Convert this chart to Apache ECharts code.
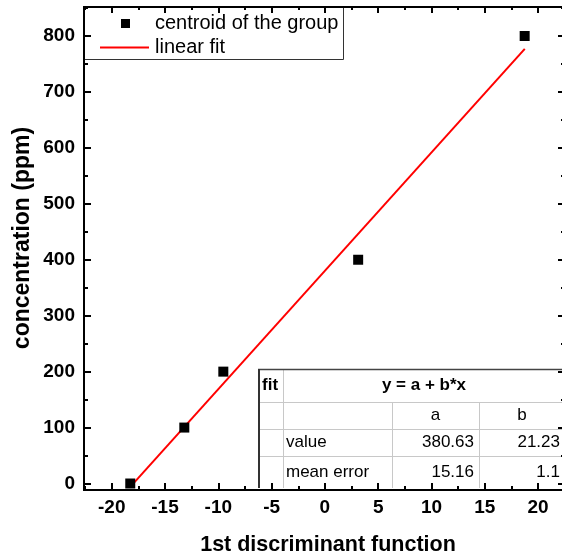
<!DOCTYPE html>
<html>
<head>
<meta charset="utf-8">
<script src="https://cdn.jsdelivr.net/npm/echarts@6/dist/echarts.min.js"></script>
<style>
  html, body { margin: 0; padding: 0; background: #fff; }
  #chart { width: 562px; height: 558px; }
</style>
</head>
<body>
<div id="chart"></div>
<script>
  // group centroids
  const xCentroid = [-18.26, -13.19, -9.53, 3.12, 18.74]
  const yConcentration = [0, 100, 200, 400, 800]
  // end points of the fitted line
  const fitX = [-18.3, 18.75]
  const fitY = [-7, 777]

  const xMajor = [-20, -15, -10, -5, 0, 5, 10, 15, 20]
  const xMinor = [-22.5, -17.5, -12.5, -7.5, -2.5, 2.5, 7.5, 12.5, 17.5, 22.5]
  const yMajor = [0, 100, 200, 300, 400, 500, 600, 700, 800]
  const yMinor = [50, 150, 250, 350, 450, 550, 650, 750, 850]

  // fit table
  const fitHeader = ['fit', 'y = a + b*x']
  const paramNames = ['a', 'b']
  const rowLabels = ['value', 'mean error']
  const valueRow = ['380.63', '21.23']
  const errorRow = ['15.16', '1.1']

  const FONT = '"Liberation Sans", Arial, sans-serif'
  const X_MIN = -22.6, X_MAX = 22.43
  const Y_MIN = -11.6, Y_MAX = 851.8

  function xAx(pos, ticks, len, labels) {
    return {
      type: 'value', position: pos, min: X_MIN, max: X_MAX,
      axisLine: { show: true, onZero: false, lineStyle: { color: '#000', width: 2 } },
      axisTick: { show: true, inside: true, length: len, customValues: ticks, lineStyle: { color: '#000', width: 2 } },
      axisLabel: labels ? { show: true, customValues: ticks, margin: 8, color: '#000', fontFamily: FONT, fontWeight: 'bold', fontSize: 19 } : { show: false },
      splitLine: { show: false }
    }
  }
  function yAx(pos, ticks, len, labels) {
    return {
      type: 'value', position: pos, min: Y_MIN, max: Y_MAX,
      axisLine: { show: true, onZero: false, lineStyle: { color: '#000', width: 2 } },
      axisTick: { show: true, inside: true, length: len, customValues: ticks, lineStyle: { color: '#000', width: 2 } },
      axisLabel: labels ? { show: true, customValues: ticks, margin: 9, color: '#000', fontFamily: FONT, fontWeight: 'bold', fontSize: 19 } : { show: false },
      splitLine: { show: false }
    }
  }

  const xAxes = [xAx('bottom', xMajor, 7, true), xAx('bottom', xMinor, 4), xAx('top', xMajor, 6), xAx('top', xMinor, 3)]
  xAxes[0].name = '1st discriminant function'
  xAxes[0].nameLocation = 'middle'
  xAxes[0].nameGap = 44
  xAxes[0].nameTextStyle = { color: '#000', fontFamily: FONT, fontWeight: 'bold', fontSize: 21.5, padding: [0, 0, 0, 8] }
  const yAxes = [yAx('left', yMajor, 7, true), yAx('left', yMinor, 4), yAx('right', yMajor, 6), yAx('right', yMinor, 3)]

  // table grid
  const colX = [258, 283, 392, 479, 565]
  const rowY = [369, 402, 429, 456, 488]
  const tableEls = []
  tableEls.push({ type: 'rect', shape: { x: colX[0], y: rowY[0], width: colX[4] - colX[0], height: rowY[4] - rowY[0] }, style: { fill: '#fff' } })
  for (let i = 1; i < 4; i++) {
    tableEls.push({ type: 'line', shape: { x1: colX[0], y1: rowY[i] + 0.5, x2: colX[4], y2: rowY[i] + 0.5 }, style: { stroke: '#c8c8c8', lineWidth: 1 } })
  }
  tableEls.push({ type: 'line', shape: { x1: colX[1] + 0.5, y1: rowY[0], x2: colX[1] + 0.5, y2: rowY[4] }, style: { stroke: '#c8c8c8', lineWidth: 1 } })
  tableEls.push({ type: 'line', shape: { x1: colX[2] + 0.5, y1: rowY[1], x2: colX[2] + 0.5, y2: rowY[4] }, style: { stroke: '#c8c8c8', lineWidth: 1 } })
  tableEls.push({ type: 'line', shape: { x1: colX[3] + 0.5, y1: rowY[1], x2: colX[3] + 0.5, y2: rowY[4] }, style: { stroke: '#c8c8c8', lineWidth: 1 } })
  tableEls.push({ type: 'line', shape: { x1: colX[0], y1: rowY[0] + 0.5, x2: colX[4], y2: rowY[0] + 0.5 }, style: { stroke: '#444', lineWidth: 1.5 } })
  tableEls.push({ type: 'line', shape: { x1: colX[0] + 1, y1: rowY[0], x2: colX[0] + 1, y2: rowY[4] }, style: { stroke: '#333', lineWidth: 2 } })

  const cellText = (txt, x, y, align, bold) => ({
    type: 'text', x: x, y: y,
    style: { text: txt, fill: '#000', font: (bold ? 'bold ' : '') + '17px ' + FONT, textAlign: align, textVerticalAlign: 'middle' }
  })
  const mid = i => (rowY[i] + rowY[i + 1]) / 2
  tableEls.push(cellText(fitHeader[0], colX[0] + 4, mid(0), 'left', true))
  tableEls.push(cellText(fitHeader[1], (colX[1] + colX[4]) / 2, mid(0), 'center', true))
  tableEls.push(cellText(paramNames[0], (colX[2] + colX[3]) / 2, mid(1), 'center'))
  tableEls.push(cellText(paramNames[1], (colX[3] + colX[4]) / 2, mid(1), 'center'))
  tableEls.push(cellText(rowLabels[0], colX[1] + 3, mid(2), 'left'))
  tableEls.push(cellText(rowLabels[1], colX[1] + 3, mid(3), 'left'))
  tableEls.push(cellText(valueRow[0], colX[3] - 5, mid(2), 'right'))
  tableEls.push(cellText(valueRow[1], colX[4] - 5, mid(2), 'right'))
  tableEls.push(cellText(errorRow[0], colX[3] - 5, mid(3), 'right'))
  tableEls.push(cellText(errorRow[1], colX[4] - 5, mid(3), 'right'))

  const seriesNames = ['centroid of the group', 'linear fit']

  // legend drawn by hand
  const legendEls = [
    { type: 'rect', shape: { x: 84.5, y: 7.5, width: 259, height: 52 }, style: { fill: '#fff', stroke: '#333', lineWidth: 1 } },
    { type: 'rect', shape: { x: 121, y: 19, width: 9, height: 9 }, style: { fill: '#000' } },
    { type: 'text', x: 155, y: 23, style: { text: seriesNames[0], fill: '#000', font: '20px ' + FONT, textVerticalAlign: 'middle' } },
    { type: 'line', shape: { x1: 100, y1: 47.5, x2: 149, y2: 47.5 }, style: { stroke: '#ff0000', lineWidth: 2 } },
    { type: 'text', x: 155, y: 47, style: { text: seriesNames[1], fill: '#000', font: '20px ' + FONT, textVerticalAlign: 'middle' } }
  ]

  const chart = echarts.init(document.getElementById('chart'), null, { renderer: 'canvas' })
  const option = {
    animation: false,
    backgroundColor: '#fff',
    grid: { left: 84, top: 7, right: -2, bottom: 68, containLabel: false, outerBoundsMode: 'none' },
    xAxis: xAxes,
    yAxis: yAxes,
    graphic: [
      { type: 'text', x: 23, y: 238, rotation: Math.PI / 2,
        style: { text: 'concentration (ppm)', fill: '#000', font: 'bold 23px ' + FONT, textAlign: 'center', textVerticalAlign: 'middle' } },
      { type: 'group', z: 100, children: legendEls },
      { type: 'group', z: 100, children: tableEls }
    ],
    series: [
      {
        name: seriesNames[1], type: 'line', xAxisIndex: 0, yAxisIndex: 0,
        data: fitX.map((x, i) => [x, fitY[i]]),
        showSymbol: false, symbol: 'none',
        lineStyle: { color: '#ff0000', width: 2 }, z: 2
      },
      {
        name: seriesNames[0], type: 'scatter', xAxisIndex: 0, yAxisIndex: 0,
        data: xCentroid.map((x, i) => [x, yConcentration[i]]),
        symbol: 'rect', symbolSize: 10,
        itemStyle: { color: '#000', opacity: 1 }, z: 3
      }
    ]
  }
  chart.setOption(option)
</script>
</body>
</html>
